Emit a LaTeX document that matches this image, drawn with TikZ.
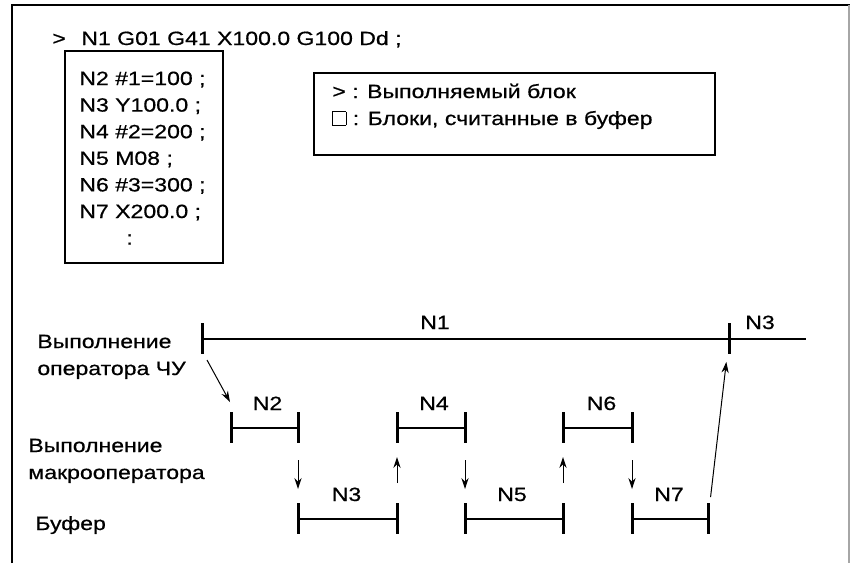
\documentclass[tikz,border=0pt]{standalone}
\usepackage{fontspec}
\setmainfont{Liberation Sans}[FakeStretch=1.2, FakeBold=0.6]
\usetikzlibrary{arrows.meta, positioning}
\newcommand{\bufsq}{{\setlength{\fboxsep}{0pt}\setlength{\fboxrule}{0.4pt}\fbox{\rule{0pt}{6.4pt}\rule{6.2pt}{0pt}}}}
\tikzset{
  >=Stealth,
  flowarrow/.style={-{Stealth[length=5.5pt, width=3.6pt]}, line width=0.5pt},
  segline/.style={line width=1.1pt},
  tickline/.style={line width=1.5pt}
}
\begin{document}
\begin{tikzpicture}[
    x=0.5pt, y=-0.5pt,
    txt/.style={font=\fontsize{9.6}{13.3}\selectfont, inner sep=0pt, anchor=base west},
    lbl/.style={font=\fontsize{9.6}{13.3}\selectfont, inner sep=0pt, anchor=base},
    framebox/.style={draw, line width=0.6pt, inner sep=0pt}
]
    \useasboundingbox (0,0) rectangle (850,563);
    % page frame
    \draw[line width=1.3pt] (12,563) -- (12,5) -- (850,5);
    \draw[black!35, line width=0.6pt] (849,5) -- (849,563);

    % program listing
    \node[txt] (cur) at (52,45) {>};
    \node[txt] (n1blk) at (81,45) {N1 G01 G41 X100.0 G100 Dd ;};
    \node[framebox, minimum width=79pt, minimum height=106pt] (listing) at (144,157) {};
    \node[txt] (l2) at (79,85) {N2 \#1=100 ;};
    \node[txt] (l3) at (79,111.6) {N3 Y100.0 ;};
    \node[txt] (l4) at (79,138.2) {N4 \#2=200 ;};
    \node[txt] (l5) at (79,164.8) {N5 M08 ;};
    \node[txt] (l6) at (79,191.4) {N6 \#3=300 ;};
    \node[txt] (l7) at (79,218) {N7 X200.0 ;};
    \node[txt] (ldots) at (126,244.6) {:};

    % legend
    \node[framebox, minimum width=200.5pt, minimum height=41pt] (legend) at (514.5,114) {};
    \node[txt] (leg1) at (332,98) {> : Выполняемый блок};
    \node[txt] (leg2) at (332,125) {\bufsq{} : Блоки, считанные в буфер};

    % row titles
    \node[txt] (nc1) at (37,348) {Выполнение};
    \node[txt] (nc2) at (37,375) {оператора ЧУ};
    \node[txt] (mac1) at (28,452) {Выполнение};
    \node[txt] (mac2) at (28,479) {макрооператора};
    \node[txt] (buf) at (35,530) {Буфер};

    % time axis points
    \coordinate (a0) at (202,339);
    \coordinate (a1) at (729,339);
    \coordinate (aend) at (806,339);
    \coordinate (m2s) at (231,428);
    \coordinate (m2e) at (298,428);
    \coordinate (m4s) at (397,428);
    \coordinate (m4e) at (465,428);
    \coordinate (m6s) at (563,428);
    \coordinate (m6e) at (632,428);
    \coordinate (b3s) at (298,519);
    \coordinate (b3e) at (397,519);
    \coordinate (b5s) at (465,519);
    \coordinate (b5e) at (563,519);
    \coordinate (b7s) at (632,519);
    \coordinate (b7e) at (708,519);

    \draw[segline] (a0) -- (aend);
    \node[lbl] (t1) at (435,329) {N1};
    \node[lbl] (t3) at (760,329) {N3};
    \draw[segline] (m2s) -- node[lbl, xshift=1.5pt, yshift=9pt] (lm2) {N2} (m2e);
    \draw[segline] (m4s) -- node[lbl, xshift=1.5pt, yshift=9pt] (lm4) {N4} (m4e);
    \draw[segline] (m6s) -- node[lbl, xshift=2pt, yshift=9pt] (lm6) {N6} (m6e);
    \draw[segline] (b3s) -- node[lbl, xshift=-0.5pt, yshift=9pt] (lb3) {N3} (b3e);
    \draw[segline] (b5s) -- node[lbl, xshift=-1pt, yshift=9pt] (lb5) {N5} (b5e);
    \draw[segline] (b7s) -- node[lbl, xshift=-0.5pt, yshift=9pt] (lb7) {N7} (b7e);
    \foreach \p in {a0,a1,m2s,m2e,m4s,m4e,m6s,m6e,b3s,b3e,b5s,b5e,b7s,b7e}
        \draw[tickline] (\p) ++(0,-16) -- ++(0,31);

    % hand-over arrows
    \coordinate (ncout) at (207,360);
    \coordinate (m2tip) at (230,402);
    \draw[flowarrow] (ncout) -- (m2tip);
    \draw[flowarrow, shorten <=16pt, shorten >=15pt] (m2e) -- (b3s);
    \draw[flowarrow, shorten <=18pt, shorten >=14.5pt] (b3e) -- (m4s);
    \draw[flowarrow, shorten <=16pt, shorten >=15pt] (m4e) -- (b5s);
    \draw[flowarrow, shorten <=18pt, shorten >=14.5pt] (b5e) -- (m6s);
    \draw[flowarrow, shorten <=16pt, shorten >=15pt] (m6e) -- (b7s);
    \draw[flowarrow, shorten <=11pt, shorten >=11.5pt] (b7e) -- (a1);
\end{tikzpicture}
\end{document}
